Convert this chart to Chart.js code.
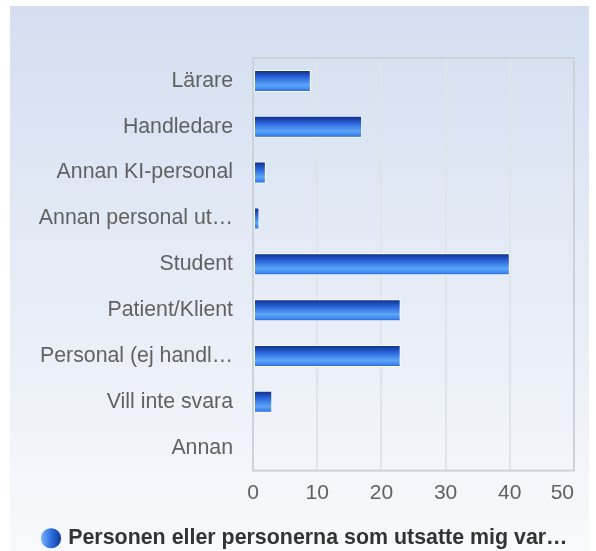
<!DOCTYPE html>
<html>
<head>
<meta charset="utf-8">
<script src="https://cdn.jsdelivr.net/npm/chart.js@4/dist/chart.umd.min.js"></script>
<style>
  html, body { margin: 0; padding: 0; background: #ffffff; }
  #wrap { width: 596px; height: 551px; position: relative; }
</style>
</head>
<body>
<div id="wrap"><canvas id="perpetratorChart"></canvas></div>
<script>
// Categories and answer counts
var categories = [
    "Lärare",
    "Handledare",
    "Annan KI-personal",
    "Annan personal ut…",
    "Student",
    "Patient/Klient",
    "Personal (ej handl…",
    "Vill inte svara",
    "Annan"
];
var answerCounts = [9, 17, 2, 1, 40, 23, 23, 3, 0];
var seriesLabel = "Personen eller personerna som utsatte mig var…";
var xTicks = [0, 10, 20, 30, 40, 50];

(function() {
    var FONT = "'Liberation Sans', Arial, sans-serif";

    // Light blue panel behind the whole chart, plot frame and bar gradients
    var decor = {
        id: 'decor',
        beforeDraw: function(chart) {
            var ctx = chart.ctx;
            var bg = ctx.createLinearGradient(0, 6, 0, 551);
            bg.addColorStop(0, '#d3dff0');
            bg.addColorStop(1, '#f8f9fc');
            ctx.save();
            ctx.fillStyle = bg;
            ctx.fillRect(10, 6, 579, 545);
            ctx.restore();

            // keep the last x tick label inside the plot frame
            var xs = chart.scales.x;
            var items = xs.getLabelItems();
            if (items.length) {
                var last = items[items.length - 1];
                last.options.textAlign = 'right';
                last.options.translation[0] = xs.right;
            }

            // legend bullet: horizontal blue gradient
            var lg = chart.legend;
            if (lg && lg.legendHitBoxes && lg.legendHitBoxes.length) {
                var hb = lg.legendHitBoxes[0];
                var g = ctx.createLinearGradient(hb.left - 4, 0, hb.left + 17, 0);
                g.addColorStop(0, '#7ab6fa');
                g.addColorStop(0.5, '#2f6fe0');
                g.addColorStop(1, '#0f3593');
                lg.legendItems[0].fillStyle = g;
            }
        },
        beforeDatasetsDraw: function(chart) {
            var ctx = chart.ctx;
            var meta = chart.getDatasetMeta(0);
            meta.data.forEach(function(bar) {
                var top = bar.y - bar.height / 2;
                var bottom = bar.y + bar.height / 2;
                var g = ctx.createLinearGradient(0, top, 0, bottom);
                g.addColorStop(0, '#0b2a86');
                g.addColorStop(0.35, '#2b66dc');
                g.addColorStop(0.7, '#5ca6f8');
                g.addColorStop(0.88, '#3f86ee');
                g.addColorStop(1, '#1d56cc');
                bar.options = Object.assign({}, bar.options, { backgroundColor: g });
            });
        },
        afterDraw: function(chart) {
            var a = chart.chartArea;
            var ctx = chart.ctx;
            ctx.save();
            ctx.strokeStyle = '#cdd2da';
            ctx.lineWidth = 2;
            ctx.strokeRect(a.left, a.top, a.right - a.left, a.bottom - a.top);
            ctx.restore();
        }
    };

    var ctx = document.getElementById('perpetratorChart').getContext('2d');
    new Chart(ctx, {
        type: 'bar',
        data: {
            labels: categories,
            datasets: [{
                label: seriesLabel,
                data: answerCounts,
                backgroundColor: '#2b66dc',
                borderColor: '#ffffff',
                borderWidth: 1,
                borderSkipped: false,
                barPercentage: 0.48,
                categoryPercentage: 1
            }]
        },
        plugins: [decor],
        options: {
            indexAxis: 'y',
            responsive: true,
            maintainAspectRatio: false,
            animation: false,
            layout: {
                padding: { top: 58, right: 22, bottom: -8, left: 38 }
            },
            plugins: {
                legend: {
                    position: 'bottom',
                    labels: {
                        usePointStyle: true,
                        pointStyle: 'circle',
                        boxWidth: 13,
                        boxHeight: 15,
                        padding: 4,
                        color: '#333333',
                        font: { family: FONT, size: 21.4, weight: 'bold' }
                    }
                },
                tooltip: { enabled: false }
            },
            scales: {
                x: {
                    min: 0,
                    max: 50,
                    afterBuildTicks: function(scale) {
                        scale.ticks = xTicks.map(function(v) { return { value: v }; });
                    },
                    afterFit: function(scale) { scale.height = 53; },
                    grid: {
                        color: '#dfe3ea',
                        lineWidth: 2,
                        drawTicks: false
                    },
                    border: { display: false },
                    ticks: {
                        padding: 10,
                        color: '#616161',
                        font: { family: FONT, size: 21 }
                    }
                },
                y: {
                    afterFit: function(scale) { scale.width = 215; },
                    grid: { display: false, drawTicks: false },
                    border: { display: false },
                    ticks: {
                        padding: 20,
                        color: '#616161',
                        font: { family: FONT, size: 21.3 }
                    }
                }
            }
        }
    });
})();
</script>
</body>
</html>
